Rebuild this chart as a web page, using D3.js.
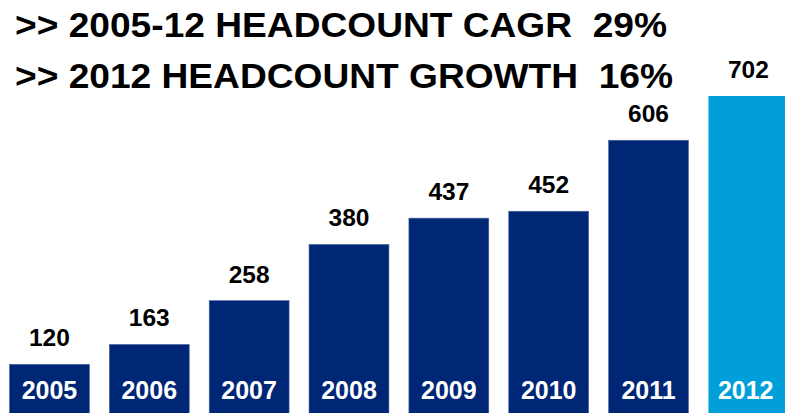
<!DOCTYPE html>
<html>
<head>
<meta charset="utf-8">
<script src="https://cdn.jsdelivr.net/npm/d3@7"></script>
<style>
  html, body { margin: 0; padding: 0; background: #ffffff; }
  svg { display: block; }
  text { font-family: "Liberation Sans", Arial, Helvetica, sans-serif; font-weight: bold; }
</style>
</head>
<body>
<svg id="chart" width="785" height="413"></svg>
<script>
// Headcount by year
const years = ["2005", "2006", "2007", "2008", "2009", "2010", "2011", "2012"];
const headcount = [120, 163, 258, 380, 437, 452, 606, 702];
const highlightYear = "2012";
const headlines = [
  ">> 2005-12 HEADCOUNT CAGR  29%",
  ">> 2012 HEADCOUNT GROWTH  16%"
];

const W = 785, H = 413;
const svg = d3.select("#chart");

const NAVY = "#002776";
const CYAN = "#009fda";

// Bars sit on a baseline just below the visible area
const x = d3.scaleBand()
  .domain(years)
  .range([9.5, 9.5 + 99.85 * 8 - 99.85 * 0.2])
  .paddingInner(0.2)
  .paddingOuter(0);

const y = d3.scaleLinear()
  .domain([0, d3.max(headcount)])
  .range([419.6, 96]);

const data = years.map((yr, i) => ({ year: yr, value: headcount[i] }));

// Bars
svg.append("g")
  .selectAll("rect")
  .data(data)
  .join("rect")
  .attr("x", d => x(d.year))
  .attr("y", d => y(d.value))
  .attr("width", x.bandwidth())
  .attr("height", d => y(0) - y(d.value))
  .attr("fill", d => d.year === highlightYear ? CYAN : NAVY)
  .attr("stroke", d => d.year === highlightYear ? "none" : "#4a66a0")
  .attr("stroke-width", 0.6);

// Value labels above bars
svg.append("g")
  .selectAll("text")
  .data(data)
  .join("text")
  .attr("x", d => x(d.year) + x.bandwidth() / 2)
  .attr("y", d => y(d.value) - 18)
  .attr("text-anchor", "middle")
  .attr("font-size", 24.5)
  .attr("fill", "#000000")
  .text(d => d.value);

// Year labels inside bars
svg.append("g")
  .selectAll("text")
  .data(data)
  .join("text")
  .attr("x", d => {
    const left = x(d.year);
    const right = Math.min(left + x.bandwidth(), W);
    return (left + right) / 2 - (d.year === highlightYear ? 1 : 0);
  })
  .attr("y", 398.8)
  .attr("text-anchor", "middle")
  .attr("font-size", 25)
  .attr("fill", "#ffffff")
  .text(d => d.year);

// Headline lines
const headEnds = [667, 673];
const headBaselines = [36.7, 88.4];
headlines.forEach((line, i) => {
  svg.append("text")
    .attr("x", 15)
    .attr("y", headBaselines[i])
    .attr("font-size", 35)
    .attr("fill", "#000000")
    .attr("textLength", headEnds[i] - 15)
    .attr("lengthAdjust", "spacingAndGlyphs")
    .attr("xml:space", "preserve")
    .style("white-space", "pre")
    .text(line);
});
</script>
</body>
</html>
